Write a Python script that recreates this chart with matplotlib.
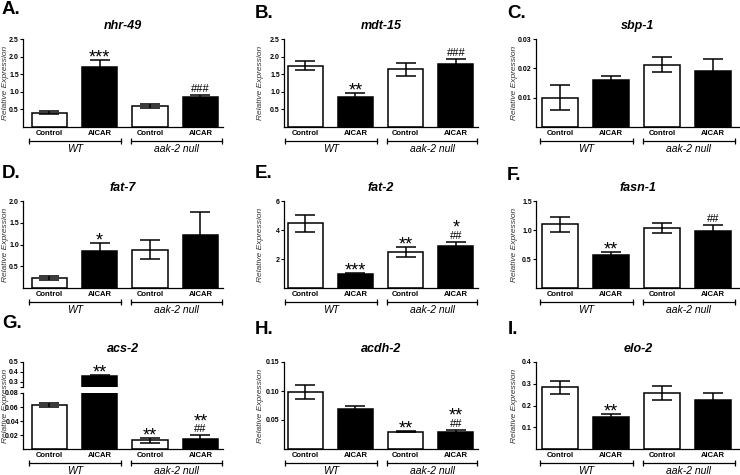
import numpy as np
import matplotlib.pyplot as plt
from matplotlib import transforms

plt.rcParams['font.family'] = ['Liberation Sans', 'DejaVu Sans']

groups = ['Control', 'AICAR', 'Control', 'AICAR']
strains = ['WT', 'aak-2 null']

# mean and error (SEM), order: WT ctrl, WT AICAR, aak-2 ctrl, aak-2 AICAR
nhr49_mean = [0.41, 1.70, 0.59, 0.84]
nhr49_err = [0.05, 0.20, 0.05, 0.08]
mdt15_mean = [1.74, 0.84, 1.64, 1.79]
mdt15_err = [0.13, 0.13, 0.19, 0.14]
sbp1_mean = [0.0100, 0.0160, 0.0213, 0.0192]
sbp1_err = [0.0043, 0.0015, 0.0026, 0.0040]
fat7_mean = [0.23, 0.855, 0.885, 1.21]
fat7_err = [0.04, 0.18, 0.22, 0.53]
fat2_mean = [4.45, 0.97, 2.47, 2.88]
fat2_err = [0.60, 0.05, 0.33, 0.30]
fasn1_mean = [1.096, 0.571, 1.038, 0.986]
fasn1_err = [0.135, 0.046, 0.087, 0.10]
acs2_mean = [0.0635, 0.36, 0.0122, 0.0146]
acs2_err = [0.0028, 0.013, 0.003, 0.0047]
acdh2_mean = [0.098, 0.069, 0.030, 0.029]
acdh2_err = [0.0115, 0.005, 0.001, 0.003]
elo2_mean = [0.283, 0.146, 0.257, 0.223]
elo2_err = [0.030, 0.015, 0.034, 0.036]

# significance marks
nhr49_stars, nhr49_hash = ['', '***', '', ''], ['', '', '', '###']
mdt15_stars, mdt15_hash = ['', '**', '', ''], ['', '', '', '###']
sbp1_stars, sbp1_hash = ['', '', '', ''], ['', '', '', '']
fat7_stars, fat7_hash = ['', '*', '', ''], ['', '', '', '']
fat2_stars, fat2_hash = ['', '***', '**', '*'], ['', '', '', '##']
fasn1_stars, fasn1_hash = ['', '**', '', ''], ['', '', '', '##']
acs2_stars, acs2_hash = ['', '**', '**', '**'], ['', '', '', '##']
acdh2_stars, acdh2_hash = ['', '', '**', '**'], ['', '', '', '##']
elo2_stars, elo2_hash = ['', '**', '', ''], ['', '', '', '']

# y ticks
nhr49_ticks = [0.5, 1.0, 1.5, 2.0, 2.5]
mdt15_ticks = [0.5, 1.0, 1.5, 2.0, 2.5]
sbp1_ticks = [0.01, 0.02, 0.03]
fat7_ticks = [0.5, 1.0, 1.5, 2.0]
fat2_ticks = [2, 4, 6]
fasn1_ticks = [0.5, 1.0, 1.5]
acs2_ticks_hi = [0.3, 0.4, 0.5]
acs2_ticks_lo = [0.02, 0.04, 0.06, 0.08]
acdh2_ticks = [0.05, 0.10, 0.15]
elo2_ticks = [0.1, 0.2, 0.3, 0.4]

W, H = 740, 475
fig = plt.figure(figsize=(7.4, 4.75), dpi=100)

col_x = [(23, 223), (284, 478), (536, 740)]
col_xlim = [(-0.52, 3.45), (-0.42, 3.44), (-0.47, 3.53)]
row_y = [(39, 127), (201, 288), (362, 449)]
letter_pos = [[(2, 10), (255, 13), (507, 13)],
              [(2, 173), (255, 174), (507, 175)],
              [(2, 324), (255, 330), (508, 330)]]
ylab_x = [6, 260, 515]
spans = [(-0.4, 1.43), (1.62, 3.43)]
x = np.arange(4)
colors = ['white', 'black', 'white', 'black']


def rect(l, r, t, b):
    return [l / W, 1 - b / H, (r - l) / W, (b - t) / H]


def ftext(px, py, s, **kw):
    fig.text(px / W, 1 - py / H, s, **kw)


def style(ax, xlim, ticks, fmt, top, bottom=0, spine_bottom=True):
    ax.spines['top'].set_visible(False)
    ax.spines['right'].set_visible(False)
    ax.spines['left'].set_linewidth(0.9)
    ax.spines['bottom'].set_linewidth(0.9)
    if not spine_bottom:
        ax.spines['bottom'].set_visible(False)
    ax.set_xlim(*xlim)
    ax.set_ylim(bottom, top)
    ax.set_yticks(ticks, labels=[fmt % t for t in ticks], fontsize=5, fontweight='bold')
    ax.tick_params(axis='y', direction='out', length=2, width=0.8, pad=1)


def bars(ax, mean, err):
    ax.bar(x, mean, width=0.7, color=colors, edgecolor='black', linewidth=1.1, zorder=2)
    ax.errorbar(x, mean, yerr=err, fmt='none', ecolor='black', elinewidth=1.1,
                capsize=7, capthick=1.1, zorder=3)


def marks(ax, i, top, star, hsh):
    if hsh:
        ax.annotate(hsh, (i, top), xytext=(0, 6), textcoords='offset pixels',
                    ha='center', va='center', fontsize=8)
    if star:
        dy = 19 if hsh else 7
        ax.annotate(star, (i, top), xytext=(0, dy - 5), textcoords='offset pixels',
                    ha='center', va='center', fontsize=13)


def xaxis(ax):
    ax.set_xticks(x, labels=groups, fontsize=5.5, fontweight='bold')
    ax.tick_params(axis='x', length=0, pad=2.5)
    off = transforms.ScaledTranslation(0, -14 / 100, fig.dpi_scale_trans)
    tr = ax.get_xaxis_transform() + off
    for (a, b), name in zip(spans, strains):
        ax.plot([a, b], [0, 0], transform=tr, color='black', lw=0.9, clip_on=False,
                marker='|', ms=5, mew=0.9)
        ax.annotate(name, xy=((a + b) / 2, 0), xycoords=('data', 'axes fraction'),
                    xytext=(0, -22), textcoords='offset pixels', ha='center', va='center',
                    fontsize=7.5, style='italic')


panels = [
    ('A.', 'nhr-49', nhr49_mean, nhr49_err, nhr49_stars, nhr49_hash, nhr49_ticks, '%.1f', 2.5),
    ('B.', 'mdt-15', mdt15_mean, mdt15_err, mdt15_stars, mdt15_hash, mdt15_ticks, '%.1f', 2.5),
    ('C.', 'sbp-1', sbp1_mean, sbp1_err, sbp1_stars, sbp1_hash, sbp1_ticks, '%.2f', 0.03),
    ('D.', 'fat-7', fat7_mean, fat7_err, fat7_stars, fat7_hash, fat7_ticks, '%.1f', 2.0),
    ('E.', 'fat-2', fat2_mean, fat2_err, fat2_stars, fat2_hash, fat2_ticks, '%d', 6),
    ('F.', 'fasn-1', fasn1_mean, fasn1_err, fasn1_stars, fasn1_hash, fasn1_ticks, '%.1f', 1.5),
    ('G.', 'acs-2', acs2_mean, acs2_err, acs2_stars, acs2_hash, None, None, None),
    ('H.', 'acdh-2', acdh2_mean, acdh2_err, acdh2_stars, acdh2_hash, acdh2_ticks, '%.2f', 0.15),
    ('I.', 'elo-2', elo2_mean, elo2_err, elo2_stars, elo2_hash, elo2_ticks, '%.1f', 0.4),
]

for k, (letter, title, mean, err, stars, hashes, ticks, fmt, top) in enumerate(panels):
    r, c = divmod(k, 3)
    l, rr = col_x[c]
    t, b = row_y[r]
    if title == 'acs-2':
        # broken y axis
        ax_hi = fig.add_axes(rect(l, rr, t, t + 25))
        ax = fig.add_axes(rect(l, rr, t + 31, b))
        bars(ax_hi, mean, err)
        bars(ax, mean, err)
        style(ax_hi, col_xlim[c], acs2_ticks_hi + [0.25], '%.1f', 0.5, 0.25, spine_bottom=False)
        ax_hi.set_yticks(acs2_ticks_hi + [0.25], labels=['0.3', '0.4', '0.5', ''],
                         fontsize=5, fontweight='bold')
        ax_hi.set_xticks([])
        style(ax, col_xlim[c], acs2_ticks_lo, '%.2f', 0.08)
        for i in range(4):
            tgt = ax_hi if mean[i] > 0.08 else ax
            marks(tgt, i, mean[i] + err[i], stars[i], hashes[i])
        title_ax = ax_hi
    else:
        ax = fig.add_axes(rect(l, rr, t, b))
        bars(ax, mean, err)
        style(ax, col_xlim[c], ticks, fmt, top)
        for i in range(4):
            marks(ax, i, mean[i] + err[i], stars[i], hashes[i])
        title_ax = ax
    xaxis(ax)
    ax.set_xlim(*col_xlim[c])
    title_ax.annotate(title, xy=(0.5, 1), xycoords='axes fraction', xytext=(0, 13),
                      textcoords='offset pixels', ha='center', va='center',
                      fontsize=9, fontweight='bold', style='italic')
    lx, ly = letter_pos[r][c]
    ftext(lx, ly, letter, fontsize=13.5, fontweight='bold', ha='left', va='center')
    ftext(ylab_x[c], (t + b) / 2, 'Relative Expression', rotation=90, fontsize=6,
          style='italic', color='#333333', ha='center', va='center')

fig.savefig('out.png', dpi=100)
